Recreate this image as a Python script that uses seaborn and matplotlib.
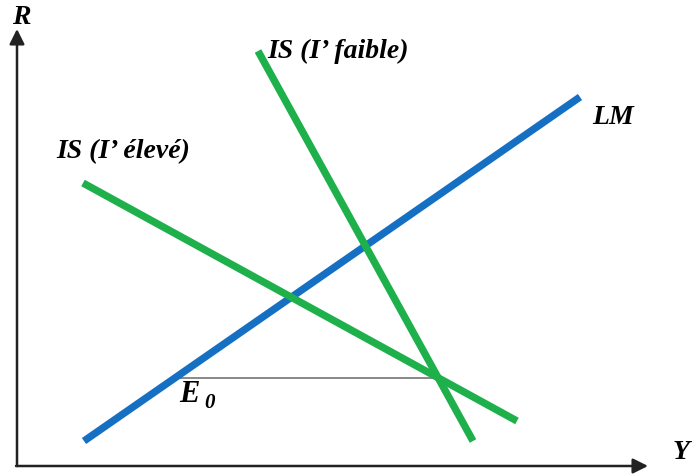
import pandas as pd
import matplotlib.pyplot as plt
import seaborn as sns

# line endpoints (pixel-like units, y grows downward)
curves = ["LM", "IS faible", "IS eleve"]
x_start = [84, 258, 83]
y_start = [442, 52, 184]
x_end = [580, 473, 517]
y_end = [98, 442, 422]

# equilibrium E0 : horizontal guide from LM to the crossing of the two IS
e0_y = 379
e0_x = [175, 438]

df = pd.DataFrame({
    "curve": curves + curves,
    "x": x_start + x_end,
    "y": y_start + y_end,
})

sns.set_style("white")
plt.rcParams['font.family'] = ['Liberation Serif', 'DejaVu Serif']

fig = plt.figure(figsize=(6.94, 4.77), dpi=100)
ax = fig.add_axes([0, 0, 1, 1])

palette = {"LM": "#1570C4", "IS faible": "#1DB04B", "IS eleve": "#1DB04B"}
sns.lineplot(data=df, x="x", y="y", hue="curve", palette=palette, sort=False,
             linewidth=5.3, legend=False, ax=ax, solid_capstyle="butt")

ax.plot(e0_x, [e0_y, e0_y], color="#7f7f7f", linewidth=1.3, zorder=1)

# axes with arrows
arrow = dict(arrowstyle="-|>,head_length=0.9,head_width=0.45", color="#222222",
             lw=1.8, shrinkA=0, shrinkB=0)
ax.annotate("", xy=(17, 30), xytext=(17, 467), arrowprops=arrow)
ax.annotate("", xy=(648, 467), xytext=(16, 467), arrowprops=arrow)

lab = dict(fontsize=20, fontweight="bold", fontstyle="italic", color="black")
ax.text(12, 18, "R", va="center", ha="left", **lab)
ax.text(673, 453, "Y", va="center", ha="left", **lab)
ax.text(267, 51, "IS (I’ faible)", va="center", ha="left", **lab)
ax.text(56, 152, "IS (I’ élevé)", va="center", ha="left", **lab)
ax.text(592, 118, "LM", va="center", ha="left", **lab)
ax.text(179, 395, "E", va="center", ha="left", fontsize=22, fontweight="bold",
        fontstyle="italic", color="black")
ax.text(204, 403, "0", va="center", ha="left", fontsize=15, fontweight="bold",
        fontstyle="italic", color="black")

ax.set_xlim(0, 694)
ax.set_ylim(477, 0)
ax.axis("off")

fig.savefig("out.png", dpi=100)
